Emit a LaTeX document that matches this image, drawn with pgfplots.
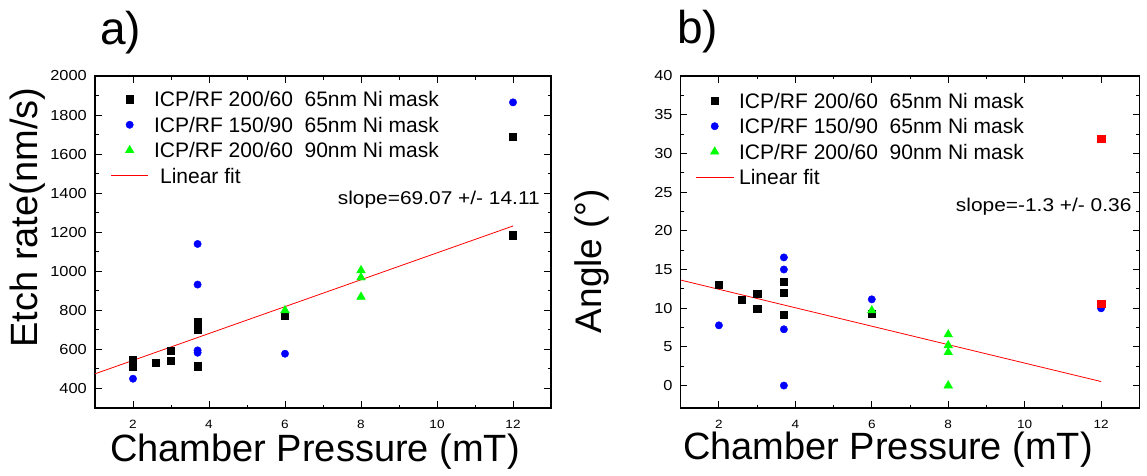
\documentclass[border=0pt]{standalone}
\usepackage{fontspec}
\setmainfont{Liberation Sans}
\usepackage{pgfplots}
\pgfplotsset{compat=1.18}
\pgfplotsset{
  myaxis/.style={
    scale only axis,
    height=332pt,
    xmin=1, xmax=13,
    xtick={2,4,...,12},
    minor x tick num=1,
    minor y tick num=1,
    tick align=inside,
    axis line style={line width=1.2pt},
    every tick/.style={black, line width=1pt},
    major tick length=6.7pt,
    minor tick length=3.5pt,
    scaled ticks=false,
    /pgf/number format/assume math mode=true,
    /pgf/number format/1000 sep={},
    xticklabel style={font=\fontsize{12}{12}\selectfont, inner sep=0pt, anchor=north, yshift=-12pt, xscale=1.13},
    yticklabel style={font=\fontsize{14.5}{14.5}\selectfont, inner sep=0pt, anchor=east, xshift=-8pt, xscale=1.13},
    legend cell align=left,
    legend style={draw=none, fill=none, inner sep=0pt, outer sep=0pt,
      font=\fontsize{21}{21}\selectfont, row sep=5.5pt,
      nodes={inner sep=0pt, outer sep=0pt, text height=17.5pt, text depth=2.5pt, anchor=west}},
    legend image code/.code={\draw[##1] plot coordinates {(0pt,0pt)};},
  },
  sq/.style={only marks, mark=square*, mark size=3.6pt, color=black},
  ci/.style={only marks, mark=*, mark size=3.7pt, color=blue},
  tr/.style={only marks, mark=triangle*, mark size=5pt, color=green},
  fitA/.style={red, line width=0.8pt, legend image code/.code={\draw[##1] (-18.6pt,0pt) -- (18.4pt,0pt);}},
  fitB/.style={red, line width=0.8pt, legend image code/.code={\draw[##1] (-18.3pt,0pt) -- (19pt,0pt);}},
}
\begin{document}
\begin{tikzpicture}[x=1pt,y=1pt]
\path[use as bounding box] (0,0) rectangle (1147,475);

% ---------- a) ----------
\begin{axis}[myaxis, at={(95pt,67pt)}, anchor=south west, width=456pt,
  ymin=300, ymax=2000, ytick={400,600,...,2000},
  legend style={at={(0.0344,0.96)}, anchor=north west, column sep=5.6pt}]
\addplot[sq] coordinates {(2,545) (2,511) (2.6,532) (3,592) (3,542) (3.7,740) (3.7,703) (3.7,514) (6,771) (12,1689) (12,1185)};
\addlegendentry{ICP/RF 200/60\ \ 65nm Ni mask}
\addplot[ci] coordinates {(2,450) (3.7,1140) (3.7,932) (3.7,595) (3.7,583) (6,578) (12,1865)};
\addlegendentry{ICP/RF 150/90\ \ 65nm Ni mask}
\addplot[tr] coordinates {(6,800) (8,1005) (8,968) (8,869)};
\addlegendentry{ICP/RF 200/60\ \ 90nm Ni mask}
\addplot[fitA] coordinates {(1,475) (12,1232)};
\addlegendentry{\hspace*{6pt}Linear fit}
\node[anchor=base east, font=\fontsize{18.5}{18.5}\selectfont, xscale=1.13, inner sep=0pt] at (axis cs:12.71,1343) {slope=69.07 +/- 14.11};
\end{axis}

% ---------- b) ----------
\begin{axis}[myaxis, at={(680.7pt,67pt)}, anchor=south west, width=458.6pt,
  ymin=-2.9, ymax=40, ytick={0,5,...,40},
  legend style={at={(0.0334,0.9557)}, anchor=north west, column sep=5pt}]
\addplot[sq] coordinates {(2,13.07) (2.6,11.14) (3,11.9) (3,9.98) (3.7,13.46) (3.7,12.0) (3.7,9.2) (6,9.33)};
\addlegendentry{ICP/RF 200/60\ \ 65nm Ni mask}
\addplot[ci] coordinates {(2,7.78) (3.7,16.56) (3.7,15.0) (3.7,7.27) (3.7,0) (6,11.14) (12,9.98)};
\addlegendentry{ICP/RF 150/90\ \ 65nm Ni mask}
\addplot[tr] coordinates {(6,9.7) (8,6.6) (8,5.2) (8,4.3) (8,0)};
\addlegendentry{ICP/RF 200/60\ \ 90nm Ni mask}
\addplot[fitB] coordinates {(1,13.63) (12,0.52)};
\addlegendentry{Linear fit}
\addplot[sq, color=red, forget plot] coordinates {(12,31.87) (12,10.58)};
\node[anchor=base east, font=\fontsize{18.5}{18.5}\selectfont, xscale=1.13, inner sep=0pt] at (axis cs:12.8,22.5) {slope=-1.3 +/- 0.36};
\end{axis}

% titles and axis labels
\node[anchor=base west, font=\fontsize{46}{46}\selectfont, inner sep=0pt] at (100,430) {a)};
\node[anchor=base west, font=\fontsize{46}{46}\selectfont, inner sep=0pt] at (677,431.5) {b)};
\node[anchor=base, font=\fontsize{38}{38}\selectfont, inner sep=0pt] at (315,13.3) {Chamber Pressure (mT)};
\node[anchor=base, font=\fontsize{38}{38}\selectfont, inner sep=0pt] at (888,15.7) {Chamber Pressure (mT)};
\node[anchor=base, rotate=90, font=\fontsize{38}{38}\selectfont, inner sep=0pt] at (37,257.5) {Etch rate(nm/s)};
\node[anchor=base, rotate=90, font=\fontsize{37}{37}\selectfont, inner sep=0pt] at (601.7,214) {Angle (°)};
\end{tikzpicture}
\end{document}
